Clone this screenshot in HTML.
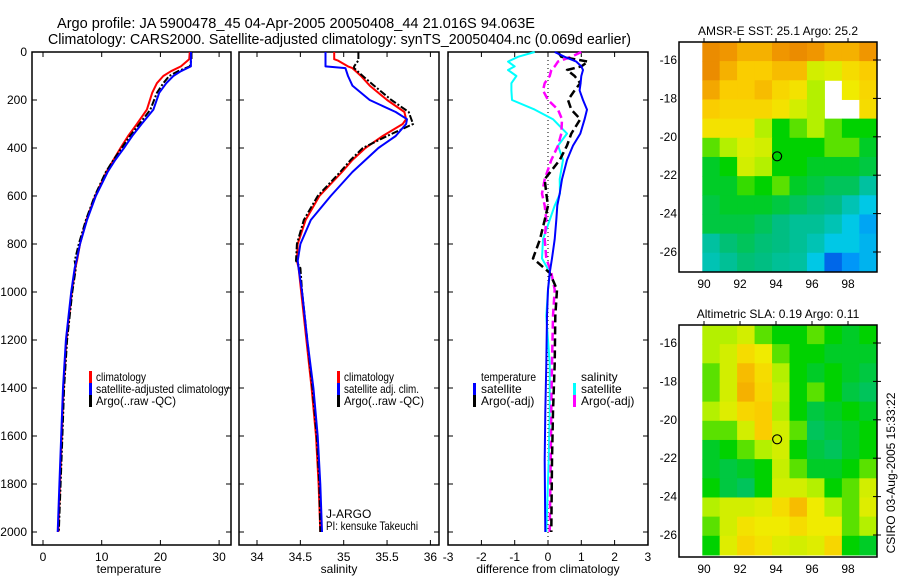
<!DOCTYPE html>
<html><head><meta charset="utf-8"><style>
html,body{margin:0;padding:0;background:#fff;}
svg{display:block;font-family:"Liberation Sans",sans-serif;}
</style></head><body>
<svg id="fig" width="900" height="580" viewBox="0 0 900 580" xmlns="http://www.w3.org/2000/svg">
<text x="57" y="28" font-size="15" textLength="478" lengthAdjust="spacingAndGlyphs">Argo profile: JA 5900478_45 04-Apr-2005 20050408_44 21.016S 94.063E</text>
<text x="48" y="44" font-size="15" textLength="583" lengthAdjust="spacingAndGlyphs">Climatology: CARS2000. Satellite-adjusted climatology: synTS_20050404.nc (0.069d earlier)</text>
<g id="g"></g>
<text font-size="12" transform="translate(895,473) rotate(-90)" text-anchor="middle">CSIRO 03-Aug-2005 15:33:22</text>
</svg>
<script>
// ---- data ----
const depthTicks=[0,200,400,600,800,1000,1200,1400,1600,1800,2000];
const tempTicks=[0,10,20,30];
const salTicks=[34,34.5,35,35.5,36];
const salTickLabels=["34","34.5","35","35.5","36"];
const diffTicks=[-3,-2,-1,0,1,2,3];
const tP=[0,30,60,80,100,130,170,240,300,350,400,450,500,600,700,800,870,900,1000,1200,1400,1600,1800,2000];
const tClim=[25.0,24.9,23.5,21.8,20.5,19.4,18.6,17.7,16,14.5,13.2,12,10.8,8.9,7.4,6.3,5.8,5.5,4.9,4.0,3.5,3.2,2.9,2.6];
const tSat=[25.2,25.2,25.2,23.5,22.2,21,19.8,18.8,16.8,15.2,13.8,12.3,11,9,7.5,6.3,5.7,5.4,4.8,3.9,3.4,3.1,2.8,2.5];
const tArgo=[25.3,25.3,25,23,21.5,20.5,19.4,18.3,16.4,14.8,13.4,12,10.7,8.8,7.3,6.1,5.4,5.6,5.0,4.1,3.6,3.3,3.0,2.7];
const sP=[0,30,35,60,67,100,140,200,250,280,300,350,400,450,500,600,700,800,870,900,1000,1200,1400,1600,1800,2000];
const sClim=[34.89,34.89,34.93,35.05,35.1,35.2,35.3,35.5,35.7,35.72,35.68,35.45,35.25,35.1,34.98,34.72,34.56,34.47,34.46,34.48,34.51,34.57,34.63,34.68,34.71,34.73];
const sSat=[34.79,34.79,34.79,34.79,35.02,35.05,35.1,35.3,35.6,35.73,35.72,35.6,35.4,35.25,35.1,34.85,34.62,34.5,34.47,34.48,34.52,34.58,34.65,34.7,34.73,34.75];
const sArgo=[35.17,35.17,35.17,35.12,35.12,35.22,35.35,35.55,35.75,35.78,35.8,35.5,35.22,35.08,34.96,34.7,34.54,34.46,34.45,34.5,34.52,34.58,34.64,34.69,34.72,34.73];
const dP=[0,20,40,60,75,100,130,160,200,240,280,340,390,450,530,590,640,700,780,860,920,990,1100,1300,1500,1700,2000];
const dTsat=[0.2,0.5,0.85,1.0,1.05,1.0,0.98,0.95,1.05,1.17,1.1,0.97,0.75,0.57,0.42,0.35,0.28,0.25,0.2,0.12,0.05,0.0,-0.03,-0.05,-0.08,-0.1,-0.08];
const dTargo=[0.3,0.4,1.2,1.0,0.57,0.8,0.97,0.8,0.6,0.7,0.97,0.7,0.57,0.35,-0.1,-0.05,0.0,-0.1,-0.24,-0.45,0.05,0.27,0.22,0.2,0.15,0.12,0.1];
const dSsat=[-0.4,-0.9,-1.2,-1.0,-1.2,-0.95,-1.1,-1.1,-1.08,-0.4,0.15,0.57,0.3,0.45,0.35,0.36,0.2,0.05,-0.15,-0.18,0.06,0.0,-0.05,0.05,0.05,0.02,-0.05];
const dSargo=[1.0,0.7,0.3,0.2,0.1,0.05,-0.1,-0.15,0.0,0.3,0.42,0.4,0.3,0.1,-0.1,-0.18,-0.1,-0.05,-0.1,-0.05,0.1,0.2,0.15,0.12,0.1,0.08,0.05];
const lonTicks=[90,92,94,96,98];
const latTicks=[-16,-18,-20,-22,-24,-26];
const sstGrid=[
[0.88,0.85,0.8,0.8,0.85,0.88,0.85,0.8,0.8,0.85],
[0.88,0.8,0.75,0.75,0.78,0.78,0.6,0.62,0.7,0.75],
[0.82,0.75,0.75,0.78,0.72,0.68,0.55,null,0.65,0.72],
[0.75,0.72,0.72,0.72,0.68,0.6,0.55,null,null,0.7],
[0.68,0.68,0.68,0.55,0.45,0.5,0.55,0.5,0.45,0.45],
[0.5,0.55,0.62,0.6,0.45,0.45,0.45,0.5,0.5,0.42],
[0.42,0.45,0.6,0.55,0.45,0.45,0.42,0.42,0.42,0.4],
[0.42,0.42,0.48,0.45,0.5,0.42,0.4,0.38,0.38,0.32],
[0.4,0.42,0.42,0.42,0.4,0.38,0.36,0.35,0.3,0.25],
[0.4,0.4,0.4,0.38,0.35,0.33,0.33,0.3,0.25,0.2],
[0.32,0.36,0.38,0.36,0.35,0.33,0.3,0.25,0.25,0.22],
[0.3,0.33,0.36,0.35,0.33,0.32,0.25,0.1,0.18,0.22]];
const slaGrid=[
[0.55,0.55,0.6,0.5,0.45,0.45,0.5,0.45,0.42,0.45],
[0.55,0.6,0.7,0.65,0.5,0.45,0.45,0.42,0.42,0.42],
[0.5,0.6,0.78,0.7,0.55,0.45,0.42,0.45,0.42,0.4],
[0.5,0.6,0.8,0.72,0.58,0.45,0.5,0.45,0.4,0.38],
[0.55,0.62,0.72,0.75,0.55,0.45,0.4,0.42,0.45,0.42],
[0.5,0.5,0.6,0.75,0.6,0.5,0.38,0.4,0.42,0.45],
[0.42,0.45,0.5,0.55,0.6,0.45,0.4,0.38,0.42,0.45],
[0.42,0.4,0.42,0.45,0.58,0.5,0.42,0.42,0.45,0.5],
[0.45,0.4,0.38,0.45,0.6,0.6,0.55,0.45,0.5,0.6],
[0.55,0.6,0.6,0.62,0.7,0.78,0.65,0.55,0.5,0.62],
[0.5,0.6,0.68,0.65,0.65,0.7,0.65,0.65,0.5,0.55],
[0.45,0.62,0.72,0.68,0.62,0.6,0.62,0.72,0.45,0.42]];
const floatLon=94.063, floatLat=-21.016;

// ---- helpers ----
const NS="http://www.w3.org/2000/svg";
const G=document.getElementById('g');
function mk(tag,attrs,parent){const e=document.createElementNS(NS,tag);for(const k in attrs)e.setAttribute(k,attrs[k]);(parent||G).appendChild(e);return e;}
const TOP=52,BOT=545;
const yP=p=>52+p*0.24;
const panels=[
 {name:'temperature',l:32,r:231,x:v=>43+v*5.87},
 {name:'salinity',l:239,r:439,x:v=>257+(v-34)*86.7},
 {name:'difference',l:448,r:648,x:v=>548+v*33.3}];
function txt(x,y,s,name,anchor,len){const t=mk('text',{x:x,y:y,'font-size':12,'text-anchor':anchor||'start'});t.textContent=s;
 if(len){t.setAttribute('textLength',len);t.setAttribute('lengthAdjust','spacingAndGlyphs');}
 
 
 return t;}
function frame(pn,xt,xl,xlabel,cx){
 const b=mk('rect',{x:pn.l,y:TOP,width:pn.r-pn.l,height:BOT-TOP,fill:'none',stroke:'#000','stroke-width':1.5});
 
 
 depthTicks.forEach(p=>{const y=yP(p);
  mk('line',{x1:pn.l,x2:pn.l+5,y1:y,y2:y,stroke:'#000'});
  mk('line',{x1:pn.r,x2:pn.r-5,y1:y,y2:y,stroke:'#000'});
 });
 xt.forEach((v,i)=>{const x=pn.x(v);
  mk('line',{x1:x,x2:x,y1:TOP,y2:TOP+5,stroke:'#000'});
  mk('line',{x1:x,x2:x,y1:BOT,y2:BOT-5,stroke:'#000'});
  txt(x,561,xl[i],pn.name+'-x-tick-label','middle');
 });
 txt(cx,573,xlabel,pn.name+'-x-axis-title','middle');
}
function line(pn,ps,vs,color,w,dash,name){
 const pts=ps.map((p,i)=>pn.x(vs[i]).toFixed(1)+','+yP(p).toFixed(1)).join(' ');
 const e=mk('polyline',{points:pts,fill:'none',stroke:color,'stroke-width':w,'stroke-dasharray':dash||'none','stroke-linejoin':'round'});
 
 
}
function legend(bx,tx,y,color,label,name,len){
 const r=mk('rect',{x:bx,y:y-10,width:3,height:12,fill:color});
 
 
 txt(tx,y,label,name,'start',len);
}

depthTicks.forEach(p=>{txt(27,yP(p)+4,String(p),'depth-tick-label','end');});

const P1=panels[0],P2=panels[1],P3=panels[2];
frame(P1,tempTicks,tempTicks.map(String),'temperature',129);
line(P1,tP,tClim,'#f00',2,null,'temperature-climatology-line');
line(P1,tP,tArgo,'#000',2,'7,2,2,2','temperature-argo-line');
line(P1,tP,tSat,'#00f',2,null,'temperature-satellite-line');
legend(89,96,381,'#f00','climatology','legend-climatology',50);
legend(89,96,393,'#00f','satellite-adjusted climatology','legend-satellite-adjusted',133);
legend(89,96,405,'#000','Argo(..raw -QC)','legend-argo',80);

frame(P2,salTicks,salTickLabels,'salinity',339);
line(P2,sP,sClim,'#f00',2,null,'salinity-climatology-line');
line(P2,sP,sArgo,'#000',2,'7,2,2,2','salinity-argo-line');
line(P2,sP,sSat,'#00f',2,null,'salinity-satellite-line');
legend(337,344,381,'#f00','climatology','legend-sal-climatology',50);
legend(337,344,393,'#00f','satellite adj. clim.','legend-sal-satellite',75);
legend(337,344,405,'#000','Argo(..raw -QC)','legend-sal-argo',80);
txt(326,518,'J-ARGO','pi-group-label');
txt(326,530,'PI: kensuke Takeuchi','pi-name-label','start',92);

frame(P3,diffTicks,diffTicks.map(String),'difference from climatology',548);
mk('line',{x1:P3.x(0),x2:P3.x(0),y1:TOP,y2:BOT,stroke:'#000','stroke-dasharray':'1,3'});
line(P3,dP,dSsat,'#0ff',2,null,'salinity-satellite-diff-line');
line(P3,dP,dSargo,'#f0f',2.5,'8,4','salinity-argo-diff-line');
line(P3,dP,dTargo,'#000',2.5,'8,4','temperature-argo-diff-line');
line(P3,dP,dTsat,'#00f',2,null,'temperature-satellite-diff-line');
txt(481,381,'temperature','legend-temperature-header','start',55);
legend(473,481,393,'#00f','satellite','legend-temp-satellite');
legend(473,481,405,'#000','Argo(-adj)','legend-temp-argo');
txt(581,381,'salinity','legend-salinity-header');
legend(573,581,393,'#0ff','satellite','legend-sal-sat-diff');
legend(573,581,405,'#f0f','Argo(-adj)','legend-sal-argo-diff');

const stops=[[0,[0,50,190]],[0.15,[0,130,255]],[0.25,[0,200,230]],[0.35,[0,190,130]],[0.45,[0,210,0]],[0.55,[180,240,0]],[0.65,[240,235,0]],[0.75,[250,205,0]],[0.85,[240,150,0]],[1,[215,100,0]]];
function cmap(v){for(let i=1;i<stops.length;i++){if(v<=stops[i][0]){const a=stops[i-1],b=stops[i];const f=(v-a[0])/(b[0]-a[0]);
 return 'rgb('+a[1].map((c,k)=>Math.round(c+(b[1][k]-c)*f)).join(',')+')';}}return 'rgb(215,100,0)';}
function map(top,bot,grid,title,name){
 const L=679,R=877;
 const lonX=lo=>704+(lo-90)*18;
 const latY=la=>top+18+(-16-la)*19.2;
 const lon0=89.9,lon1=99.6,lat0=-15.06,lat1=-27.04;
 const rows=grid.length,cols=grid[0].length;
 const dLon=(lon1-lon0)/cols,dLat=(lat0-lat1)/rows;
 grid.forEach((row,r)=>row.forEach((v,c)=>{
  if(v===null)return;
  const x0=lonX(lon0+c*dLon),x1=lonX(lon0+(c+1)*dLon);
  const y0=latY(lat0-r*dLat),y1=latY(lat0-(r+1)*dLat);
  const e=mk('rect',{x:x0,y:y0,width:x1-x0+0.5,height:y1-y0+0.5,fill:cmap(v)});
  
  
 }));
 const w=mk('rect',{x:L,y:top,width:lonX(lon0)-L,height:bot-top,fill:'#fff'});
 
 
 const f=mk('rect',{x:L,y:top,width:R-L,height:bot-top,fill:'none',stroke:'#000','stroke-width':1.5});
 
 
 lonTicks.forEach(lo=>{const x=lonX(lo);
  mk('line',{x1:x,x2:x,y1:top,y2:top-4,stroke:'#000'});
  txt(x,bot+16,String(lo),name+'-lon-label','middle');});
 latTicks.forEach(la=>{const y=latY(la);
  mk('line',{x1:R,x2:R+4,y1:y,y2:y,stroke:'#000'});
  mk('line',{x1:R,x2:R-4,y1:y,y2:y,stroke:'#000'});
  txt(L-2,y+4,String(la),name+'-lat-label','end');});
 const c=mk('circle',{cx:lonX(floatLon),cy:latY(floatLat),r:4.5,fill:'none',stroke:'#000','stroke-width':1.2});
 
 
 txt((L+R)/2,top-7,title,name+'-title','middle');
}
map(42,272,sstGrid,'AMSR-E SST: 25.1 Argo: 25.2','sst-map');
map(325,557,slaGrid,'Altimetric SLA: 0.19 Argo: 0.11','sla-map');
</script>
</body></html>
